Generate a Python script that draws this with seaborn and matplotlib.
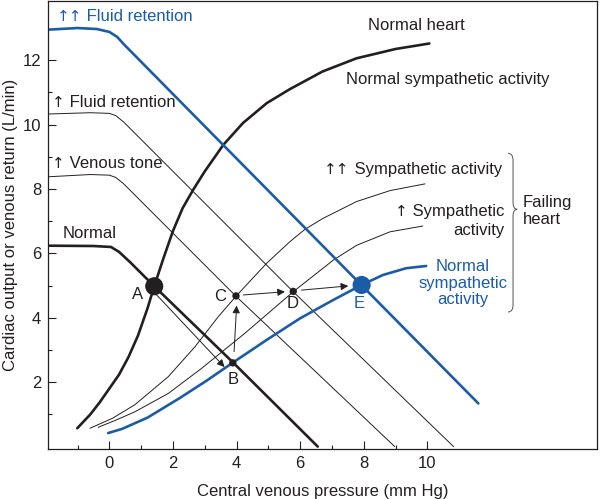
import matplotlib
matplotlib.use("Agg")
import matplotlib.pyplot as plt
import matplotlib.patches as mpatches
from matplotlib.path import Path
from matplotlib.offsetbox import TextArea, HPacker, AnnotationBbox
import seaborn as sns

# -------------------------
# DATA
# -------------------------
# cardiac output, normal heart
heart_x = [-1.01, -0.6, -0.3, 0.3, 0.6, 0.9, 1.2, 1.41, 1.7, 2.0, 2.3, 2.63, 3.0, 3.58, 4.2, 4.95, 5.67, 6.7, 7.77, 9.0, 10.06]
heart_y = [0.57, 1.0, 1.38, 2.23, 2.78, 3.45, 4.3, 4.98, 5.85, 6.7, 7.4, 7.97, 8.55, 9.37, 10.05, 10.67, 11.1, 11.65, 12.06, 12.35, 12.52]

# failing heart, normal sympathetic activity (blue)
fail_x = [-0.04, 0.4, 1.2, 2.2, 3.06, 3.87, 4.94, 5.99, 7.03, 7.93, 8.6, 9.33, 9.96]
fail_y = [0.42, 0.55, 0.9, 1.5, 2.05, 2.6, 3.31, 3.98, 4.55, 5.02, 5.33, 5.54, 5.61]

# failing heart, up sympathetic activity
symp1_x = [-0.35, 0.2, 0.8, 1.85, 2.9, 4.26, 5.78, 7.05, 7.77, 8.82, 9.85]
symp1_y = [0.6, 0.82, 1.08, 1.65, 2.43, 3.52, 4.81, 5.8, 6.25, 6.67, 6.85]

# failing heart, up-up sympathetic activity
symp2_x = [-0.61, 0.1, 0.8, 1.85, 2.69, 3.42, 3.98, 4.94, 5.67, 6.15, 6.72, 7.77, 8.82, 9.92]
symp2_y = [0.57, 0.88, 1.3, 2.17, 3.1, 4.03, 4.67, 5.69, 6.36, 6.75, 7.09, 7.61, 7.95, 8.16]

# venous return curves
vr_normal_x = [-1.93, -0.5, 0.05, 0.3, 0.66, 1.41, 3.9, 6.55]
vr_normal_y = [6.24, 6.23, 6.2, 6.05, 5.72, 4.98, 2.6, 0.0]

vr_tone_x = [-1.93, -0.6, 0.0, 0.2, 0.45, 3.98, 8.97]
vr_tone_y = [8.38, 8.45, 8.43, 8.36, 8.16, 4.67, 0.0]

vr_fluid_x = [-1.93, -0.6, 0.0, 0.2, 0.45, 5.78, 10.82]
vr_fluid_y = [10.33, 10.37, 10.35, 10.28, 10.08, 4.81, 0.0]

vr_fluid2_x = [-1.93, -1.0, -0.4, 0.0, 0.25, 0.45, 7.92, 11.6]
vr_fluid2_y = [12.95, 13.0, 12.97, 12.88, 12.72, 12.5, 5.02, 1.34]

# equilibrium points
pt_names = ["A", "B", "C", "D", "E"]
pt_x = [1.41, 3.88, 3.98, 5.78, 7.93]
pt_y = [4.98, 2.6, 4.68, 4.82, 5.02]

# transitions A->B->C->D->E
arrow_from = [(1.42, 4.78), (3.92, 2.95), (4.21, 4.71), (6.04, 4.86)]
arrow_to = [(3.62, 2.47), (4.0, 4.38), (5.52, 4.81), (7.51, 4.99)]

BLUE = "#1b5ca8"
INK = "#231f20"

# -------------------------
# STYLE
# -------------------------
sns.set_theme(style="ticks")
plt.rcParams['font.family'] = ['Liberation Sans', 'DejaVu Sans']
plt.rcParams['font.size'] = 12
plt.rcParams['text.color'] = INK
plt.rcParams['axes.labelcolor'] = INK

fig = plt.figure(figsize=(6, 4.99), dpi=100)
ax = fig.add_axes([0.08, 0.1002, 0.915, 0.8978])


def curve(x, y, color, lw):
    sns.lineplot(x=x, y=y, sort=False, estimator=None, color=color,
                 linewidth=lw, ax=ax, solid_joinstyle="round")


def arrow_label(x, y, arrows, rest, color=INK, align=0.0):
    # the up arrows come from DejaVu, which draws them at cap height
    box = HPacker(children=[
        TextArea(arrows, textprops=dict(family="DejaVu Sans", size=11, color=color)),
        TextArea(rest, textprops=dict(size=12, color=color)),
    ], align="baseline", pad=0, sep=0)
    ax.add_artist(AnnotationBbox(box, (x, y), box_alignment=(align, 0.5),
                                 frameon=False, pad=0))


curve(vr_tone_x, vr_tone_y, INK, 0.7)
curve(vr_fluid_x, vr_fluid_y, INK, 0.7)
curve(symp1_x, symp1_y, INK, 0.7)
curve(symp2_x, symp2_y, INK, 0.7)
curve(vr_normal_x, vr_normal_y, INK, 1.9)
curve(heart_x, heart_y, INK, 1.9)
curve(vr_fluid2_x, vr_fluid2_y, BLUE, 1.9)
curve(fail_x, fail_y, BLUE, 1.9)

for (x0, y0), (x1, y1) in zip(arrow_from, arrow_to):
    ax.annotate("", xy=(x1, y1), xytext=(x0, y0),
                arrowprops=dict(arrowstyle="-|>", color=INK, lw=0.7,
                                mutation_scale=11, shrinkA=0, shrinkB=0))

big = [n in ("A", "E") for n in pt_names]
colors = [BLUE if n == "E" else INK for n in pt_names]
sizes = [170 if b else 28 for b in big]
ax.scatter(pt_x, pt_y, s=sizes, c=colors, linewidths=0, zorder=6)

# point letters
ax.text(0.9, 4.71, "A", ha="center", va="center")
ax.text(3.88, 2.07, "B", ha="center", va="center")
ax.text(3.47, 4.65, "C", ha="center", va="center")
ax.text(5.77, 4.43, "D", ha="center", va="center")
ax.text(7.85, 4.43, "E", ha="center", va="center", color=BLUE)

# curve labels
arrow_label(-1.65, 13.37, "\u2191\u2191", " Fluid retention", color=BLUE)
arrow_label(-1.81, 10.70, "\u2191", " Fluid retention")
arrow_label(-1.81, 8.80, "\u2191", " Venous tone")
ax.text(-1.46, 6.63, "Normal", ha="left", va="center")
ax.text(9.66, 13.09, "Normal heart", ha="center", va="center")
ax.text(10.64, 11.41, "Normal sympathetic activity", ha="center", va="center")
arrow_label(12.34, 8.62, "\u2191\u2191", " Sympathetic activity", align=1.0)
arrow_label(12.41, 7.31, "\u2191", " Sympathetic", align=1.0)
ax.text(12.41, 6.72, "activity", ha="right", va="center")
ax.text(11.12, 5.08, "Normal\nsympathetic\nactivity", ha="center", va="center",
        color=BLUE, linespacing=1.15)
ax.text(13.0, 7.31, "Failing\nheart", ha="left", va="center", linespacing=1.15)

# curly brace grouping the failing-heart curves
bx, btop, bbot, bmid = 12.69, 9.11, 4.18, 7.37
hook, tip, r = 0.16, 0.13, 0.22
verts = [(bx - hook, btop), (bx, btop), (bx, btop - r),
         (bx, bmid + r), (bx, bmid), (bx + tip, bmid),
         (bx, bmid), (bx, bmid - r),
         (bx, bbot + r), (bx, bbot), (bx - hook, bbot)]
codes = [Path.MOVETO, Path.CURVE3, Path.CURVE3,
         Path.LINETO, Path.CURVE3, Path.CURVE3,
         Path.CURVE3, Path.CURVE3,
         Path.LINETO, Path.CURVE3, Path.CURVE3]
ax.add_patch(mpatches.PathPatch(Path(verts, codes), fill=False, lw=0.7, edgecolor="#555555"))

# -------------------------
# AXES
# -------------------------
ax.set_xlim(-1.93, 15.33)
ax.set_ylim(-0.075, 13.84)
ax.set_xticks(range(0, 11, 2))
ax.set_xticks(range(-1, 10, 2), minor=True)
ax.set_yticks(range(2, 13, 2))
ax.set_yticks(range(1, 12, 2), minor=True)
ax.tick_params(which="both", direction="in", width=0.8, color=INK, labelcolor=INK)
ax.tick_params(which="major", length=6, pad=5, labelsize=12)
ax.tick_params(which="minor", length=3)
for s in ax.spines.values():
    s.set_linewidth(0.9)
    s.set_color(INK)
ax.set_xlabel("Central venous pressure (mm Hg)", fontsize=12, labelpad=9.5)
ax.set_ylabel("Cardiac output or venous return (L/min)", fontsize=12, labelpad=3)

plt.savefig("out.png", dpi=100)
